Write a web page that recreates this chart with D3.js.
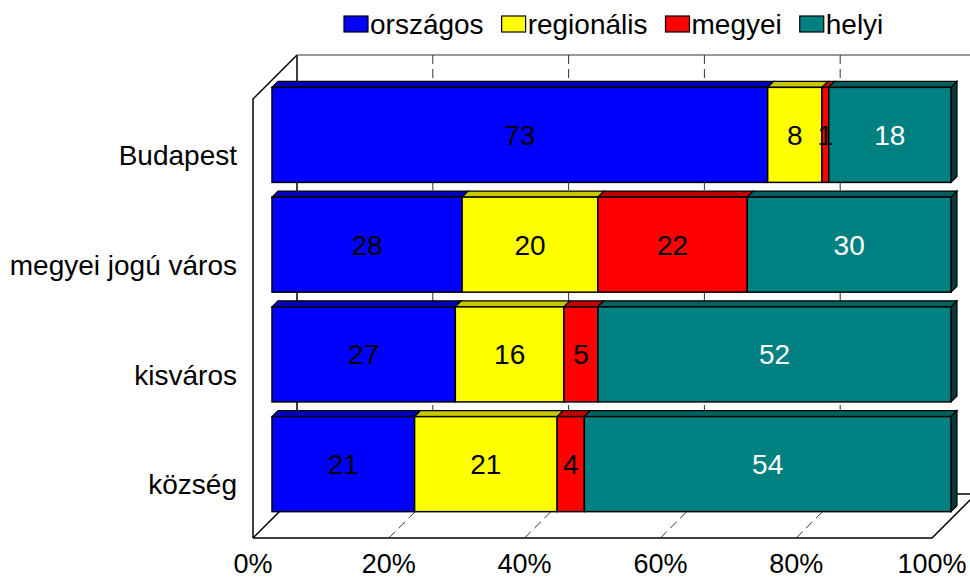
<!DOCTYPE html>
<html>
<head>
<meta charset="utf-8">
<script src="https://cdn.jsdelivr.net/npm/d3@7"></script>
<style>
  body { margin: 0; background: #fff; }
  svg { display: block; font-family: "Liberation Sans", Arial, sans-serif; }
</style>
</head>
<body>
<svg width="970" height="579"></svg>
<script>
// chart data
const categories = ["Budapest", "megyei jogú város", "kisváros", "község"];
const seriesNames = ["országos", "regionális", "megyei", "helyi"];
const orszagos = [73, 28, 27, 21];
const regionalis = [8, 20, 16, 21];
const megyei = [1, 22, 5, 4];
const helyi = [18, 30, 52, 54];
const tickValues = [0, 20, 40, 60, 80, 100];

const colors = ["#0000ff", "#ffff00", "#ff0000", "#008080"];
const topColors = ["#0000b8", "#c8c800", "#c00000", "#006060"];
const sideColor = "#003c3c";
const textColors = ["#000", "#000", "#000", "#fff"];

const FONT = 28;
const svg = d3.select("svg");

// 3d geometry (front plane, depth of walls, depth of bars)
const DEPTH = 44;
const BAR_Z0 = 19;
const BAR_Z1 = 25;
const P = (x, y, z) => [x + z, y - z];

const x = d3.scaleLinear().domain([0, 100]).range([253, 932]);
const y = d3.scaleBand().domain(categories).range([99, 538])
  .paddingInner(0.134).paddingOuter(0.067);

const yTop = 99, yBot = 538;
const line = d3.line();

// back wall
const wall = svg.append("g");
wall.append("path")
  .attr("d", line([P(x(0), yBot, DEPTH), P(x(0), yTop, DEPTH)]))
  .attr("fill", "none").attr("stroke", "#000").attr("stroke-width", 1.5);
wall.append("path")
  .attr("d", line([P(x(0), yTop, DEPTH), P(x(100) + 10, yTop, DEPTH)]))
  .attr("fill", "none").attr("stroke", "#777").attr("stroke-width", 1.5);

// gridlines on back wall
wall.selectAll(".grid")
  .data(tickValues.slice(1, -1))
  .enter().append("line")
    .attr("x1", d => P(x(d), yTop, DEPTH)[0])
    .attr("x2", d => P(x(d), yBot, DEPTH)[0])
    .attr("y1", d => P(x(d), yTop, DEPTH)[1])
    .attr("y2", d => P(x(d), yBot, DEPTH)[1])
    .attr("stroke", "#333").attr("stroke-width", 1)
    .attr("stroke-dasharray", "9,5");

// left wall
svg.append("path")
  .attr("d", line([P(x(0), yBot, 0), P(x(0), yTop, 0), P(x(0), yTop, DEPTH)]))
  .attr("fill", "none").attr("stroke", "#000").attr("stroke-width", 1.5);

// floor
svg.append("path")
  .attr("d", line([P(x(0), yBot, 0), P(x(100), yBot, 0), P(x(100), yBot, DEPTH),
                   P(x(0), yBot, DEPTH), P(x(0), yBot, 0)]))
  .attr("fill", "#fff").attr("stroke", "#000").attr("stroke-width", 1.5);
svg.append("path")
  .attr("d", line([P(x(100), yBot, DEPTH), P(x(100) + 10, yBot, DEPTH)]))
  .attr("stroke", "#000").attr("stroke-width", 1.5);

svg.selectAll(".floorgrid")
  .data(tickValues.slice(1, -1))
  .enter().append("path")
    .attr("d", d => line([P(x(d), yBot, 0), P(x(d), yBot, DEPTH)]))
    .attr("stroke", "#333").attr("stroke-width", 1)
    .attr("stroke-dasharray", "9,5");

// bars
const series = [orszagos, regionalis, megyei, helyi];
const rows = categories.map((cat, ci) => {
  let cum = 0;
  return series.map((s, si) => {
    const seg = { cat, si, v: s[ci], x0: cum, x1: cum + s[ci] };
    cum += s[ci];
    return seg;
  });
});

rows.forEach(segs => {
  const g = svg.append("g");
  const t = y(segs[0].cat), b = t + y.bandwidth();

  g.selectAll(".top")
    .data(segs)
    .enter().append("path")
      .attr("d", d => line([P(x(d.x0), t, BAR_Z0), P(x(d.x1), t, BAR_Z0),
                            P(x(d.x1), t, BAR_Z1), P(x(d.x0), t, BAR_Z1)]) + "Z")
      .attr("fill", d => topColors[d.si])
      .attr("stroke", "#000").attr("stroke-width", 1.2);

  const last = segs[segs.length - 1];
  g.append("path")
    .attr("d", line([P(x(last.x1), t, BAR_Z0), P(x(last.x1), t, BAR_Z1),
                     P(x(last.x1), b, BAR_Z1), P(x(last.x1), b, BAR_Z0)]) + "Z")
    .attr("fill", sideColor)
    .attr("stroke", "#000").attr("stroke-width", 1.2);

  g.selectAll(".front")
    .data(segs)
    .enter().append("rect")
      .attr("x", d => P(x(d.x0), t, BAR_Z0)[0])
      .attr("y", P(0, t, BAR_Z0)[1])
      .attr("width", d => x(d.x1) - x(d.x0))
      .attr("height", y.bandwidth())
      .attr("fill", d => colors[d.si])
      .attr("stroke", "#000").attr("stroke-width", 1.5);

  g.selectAll(".val")
    .data(segs)
    .enter().append("text")
      .attr("x", d => P(x((d.x0 + d.x1) / 2), 0, BAR_Z0)[0])
      .attr("y", P(0, (t + b) / 2, BAR_Z0)[1])
      .attr("dy", "0.36em")
      .attr("text-anchor", "middle")
      .attr("font-size", FONT)
      .attr("fill", d => textColors[d.si])
      .text(d => d.v);
});

// category labels
svg.selectAll(".cat")
  .data(categories)
  .enter().append("text")
    .attr("x", 237)
    .attr("y", d => y(d) + y.bandwidth() / 2)
    .attr("dy", "0.4em")
    .attr("text-anchor", "end")
    .attr("font-size", FONT)
    .text(d => d);

// x tick labels
svg.selectAll(".tick")
  .data(tickValues)
  .enter().append("text")
    .attr("x", d => x(d))
    .attr("y", 573)
    .attr("text-anchor", "middle")
    .attr("font-size", 27)
    .text(d => d + "%");

// legend
const legend = svg.append("g");
let lx = 344;
seriesNames.forEach((name, i) => {
  legend.append("rect")
    .attr("x", lx).attr("y", 16)
    .attr("width", 24).attr("height", 16)
    .attr("fill", colors[i])
    .attr("stroke", "#000").attr("stroke-width", 1.2);
  const txt = legend.append("text")
    .attr("x", lx + 26).attr("y", 34)
    .attr("font-size", FONT)
    .text(name);
  lx += 26 + txt.node().getComputedTextLength() + 18;
});
</script>
</body>
</html>
